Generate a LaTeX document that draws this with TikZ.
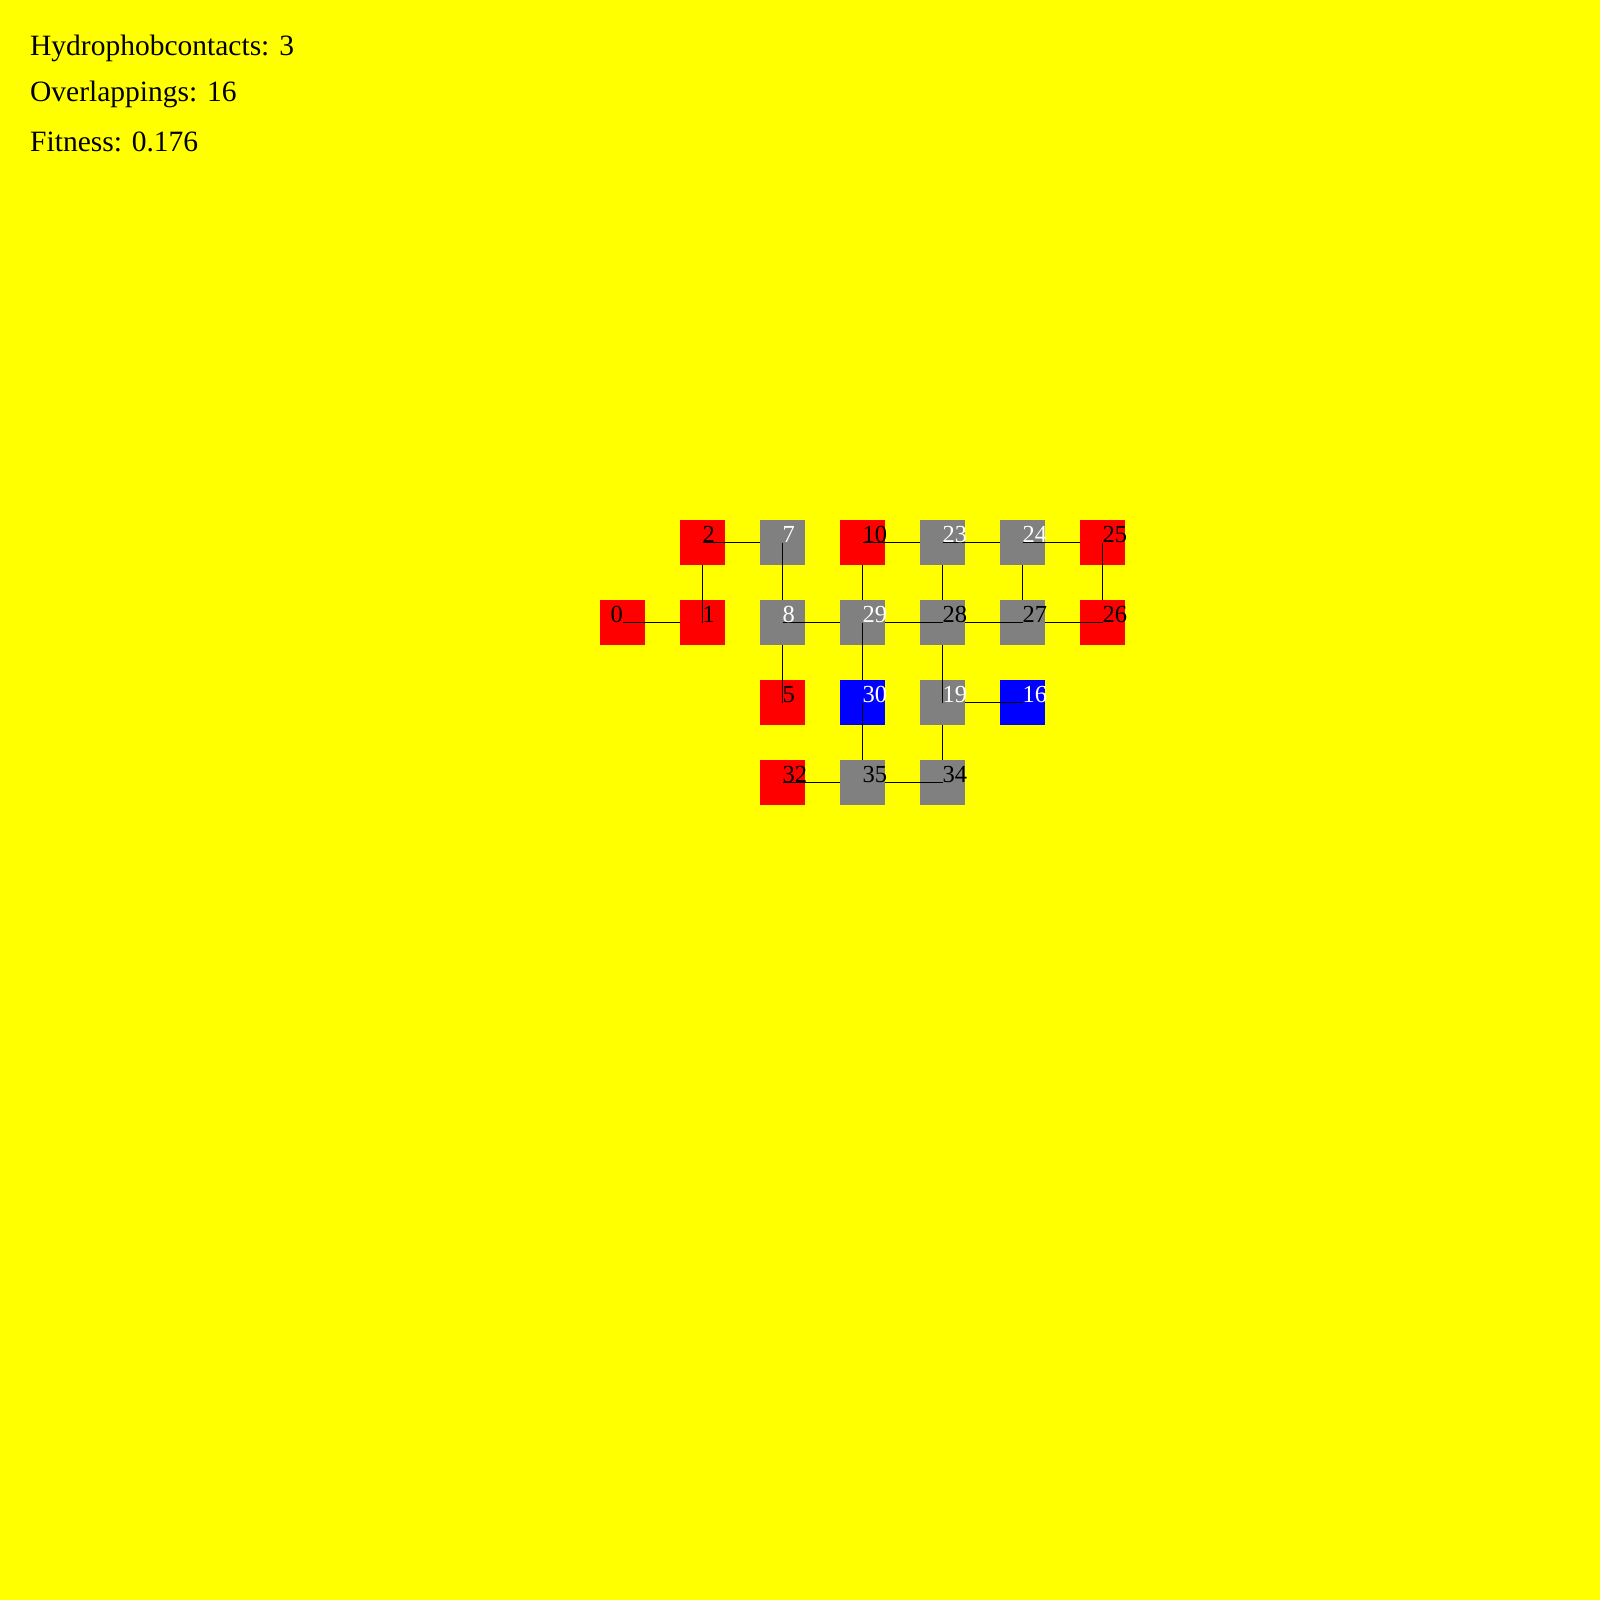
\documentclass[tikz,border=0pt]{standalone}
\usepackage{fontspec}
\setmainfont{Liberation Serif}
\usepackage{xcolor}
\usepackage{tikz}
\usetikzlibrary{positioning}

\definecolor{bgyellow}{RGB}{255,255,0}
\definecolor{hred}{RGB}{255,0,0}
\definecolor{pgray}{RGB}{128,128,128}
\definecolor{cblue}{RGB}{0,0,255}

\begin{document}
\begin{tikzpicture}[
  x=1pt, y=-1pt,
  node distance=35pt and 35pt,
  res/.style={minimum size=45pt,inner sep=0pt,outer sep=0pt},
  hres/.style={res,fill=hred},
  pres/.style={res,fill=pgray},
  cres/.style={res,fill=cblue},
  num/.style={font=\fontsize{24.5}{24.5}\selectfont,inner sep=0pt,anchor=base west},
  wnum/.style={num,text=white},
  bond/.style={line width=1pt,black},
  info/.style={font=\fontsize{29.5}{29.5}\selectfont,inner sep=0pt,anchor=base west}
]
\fill[bgyellow] (0,0) rectangle (1600,1600);
\useasboundingbox (0,0) rectangle (1600,1600);

\node[info] (hc) at (30,56) {Hydrophobcontacts: 3};
\node[info] (ov) at (30,102) {Overlappings: 16};
\node[info] (fit) at (30,151) {Fitness: 0.176};

% row 2 (middle)
\node[hres] (n0) at (622.5,622.5) {};
\node[hres, right=of n0] (n1) {};
\node[pres, right=of n1] (n8) {};
\node[pres, right=of n8] (n29) {};
\node[pres, right=of n29] (n28) {};
\node[pres, right=of n28] (n27) {};
\node[hres, right=of n27] (n26) {};
% top row
\node[hres, above=of n1] (n2) {};
\node[pres, above=of n8] (n7) {};
\node[hres, above=of n29] (n10) {};
\node[pres, above=of n28] (n23) {};
\node[pres, above=of n27] (n24) {};
\node[hres, above=of n26] (n25) {};
% lower rows
\node[hres, below=of n8] (n5) {};
\node[cres, below=of n29] (n30) {};
\node[pres, below=of n28] (n19) {};
\node[cres, below=of n27] (n16) {};
\node[hres, below=of n5] (n32) {};
\node[pres, below=of n30] (n35) {};
\node[pres, below=of n19] (n34) {};

\draw[bond] (n0.center) -- (n1);
\draw[bond] (n1.center) -- (n2);
\draw[bond] (n2.center) -- (n7);
\draw[bond] (n7.center) -- (n8);
\draw[bond] (n5.center) -- (n8);
\draw[bond] (n8.center) -- (n29);
\draw[bond] (n10) -- (n29);
\draw[bond] (n10.center) -- (n23);
\draw[bond] (n23) -- (n28);
\draw[bond] (n23.center) -- (n24);
\draw[bond] (n24) -- (n27);
\draw[bond] (n24.center) -- (n25);
\draw[bond] (n25.center) -- (n26);
\draw[bond] (n26.center) -- (n27);
\draw[bond] (n27.center) -- (n28);
\draw[bond] (n28.center) -- (n29);
\draw[bond] (n29.center) -- (n30);
\draw[bond] (n30.center) -- (n35);
\draw[bond] (n19.center) -- (n28);
\draw[bond] (n16.center) -- (n19);
\draw[bond] (n34) -- (n19);
\draw[bond] (n32.center) -- (n35);
\draw[bond] (n34.center) -- (n35);

% residue numbers
\node[num] (t0) at ([xshift=-12pt]n0.center) {0};
\node[num] (t1) at (n1.center) {1};
\node[num] (t2) at (n2.center) {2};
\node[wnum] (t7) at (n7.center) {7};
\node[wnum] (t8) at (n8.center) {8};
\node[num] (t10) at (n10.center) {10};
\node[wnum] (t29) at (n29.center) {29};
\node[wnum] (t23) at (n23.center) {23};
\node[num] (t28) at (n28.center) {28};
\node[wnum] (t24) at (n24.center) {24};
\node[num] (t27) at (n27.center) {27};
\node[num] (t25) at (n25.center) {25};
\node[num] (t26) at (n26.center) {26};
\node[num] (t5) at (n5.center) {5};
\node[wnum] (t30) at (n30.center) {30};
\node[wnum] (t19) at (n19.center) {19};
\node[wnum] (t16) at (n16.center) {16};
\node[num] (t32) at (n32.center) {32};
\node[num] (t35) at (n35.center) {35};
\node[num] (t34) at (n34.center) {34};
\end{tikzpicture}
\end{document}
